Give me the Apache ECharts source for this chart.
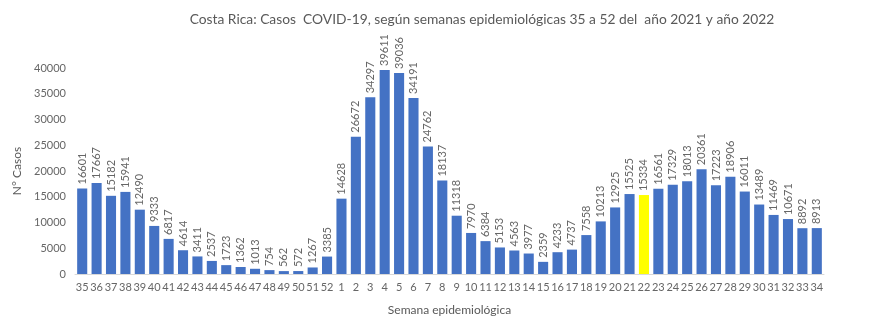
<!DOCTYPE html>
<html><head><meta charset="utf-8">
<script src="https://cdn.jsdelivr.net/npm/echarts@6/dist/echarts.min.js"></script>
<style>html,body{margin:0;padding:0;background:#fff}#c{width:886px;height:330px}</style>
</head><body><div id="c"></div>
<script>
const weeks = ['35','36','37','38','39','40','41','42','43','44','45','46','47','48','49','50','51','52',
  '1','2','3','4','5','6','7','8','9','10','11','12','13','14','15','16','17','18','19','20','21','22','23','24','25','26','27','28','29','30','31','32','33','34'];
const cases = [16601,17667,15182,15941,12490,9333,6817,4614,3411,2537,1723,1362,1013,754,562,572,1267,3385,
  14628,26672,34297,39611,39036,34191,24762,18137,11318,7970,6384,5153,4563,3977,2359,4233,4737,7558,10213,12925,15525,15334,16561,17329,18013,20361,17223,18906,16011,13489,11469,10671,8892,8913];
const highlightWeek = '22';
const yTicks = [0,5000,10000,15000,20000,25000,30000,35000,40000];

const font = 'Lato, "Open Sans", sans-serif';
const txt = '#595959';
const chart = echarts.init(document.getElementById('c'));
chart.setOption({
  animation:false,
  title:{text:'Costa Rica: Casos  COVID-19, según semanas epidemiológicas 35 a 52 del  año 2021 y año 2022',
    left:477, top:8, textAlign:'center',
    textStyle:{fontFamily:font,fontSize:13.8,fontWeight:'normal',color:txt}},
  grid:{left:75,right:62,top:68,bottom:56},
  xAxis:{type:'category',data:weeks,
    name:'Semana epidemiológica',nameLocation:'middle',nameGap:30,
    nameTextStyle:{fontFamily:font,fontSize:12,color:txt},
    axisLine:{lineStyle:{color:'#d9d9d9'}},axisTick:{show:false},
    axisLabel:{interval:0,fontFamily:font,fontSize:11,color:'#666',margin:8}},
  yAxis:{type:'value',min:yTicks[0],max:yTicks[yTicks.length-1],interval:5000,
    name:'N° Casos',nameLocation:'middle',nameGap:48,nameRotate:90,
    nameTextStyle:{fontFamily:font,fontSize:12,color:txt},
    splitLine:{show:false},axisLine:{show:false},axisTick:{show:false},
    axisLabel:{fontFamily:font,fontSize:11,color:'#666',margin:9,formatter:v=>String(v)}},
  series:[{type:'bar',barCategoryGap:'30%',
    data:cases.map((v,i)=>({value:v,itemStyle:{color:weeks[i]===highlightWeek?'#FFFF00':'#4472C4'}})),
    label:{show:true,position:'top',rotate:90,align:'left',verticalAlign:'middle',distance:4,
      fontFamily:font,fontSize:11,color:'#666',formatter:p=>String(p.value)}}]
});
</script></body></html>
